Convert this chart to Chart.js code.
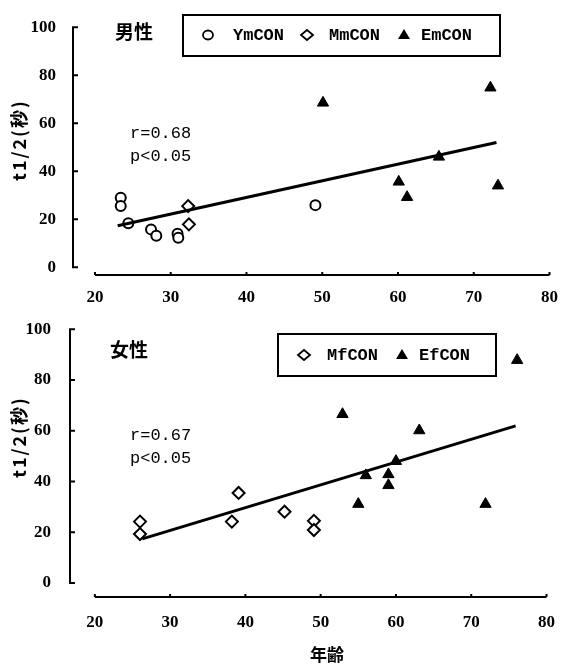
<!DOCTYPE html>
<html>
<head>
<meta charset="utf-8">
<script src="https://cdn.jsdelivr.net/npm/chart.js@4.4.1/dist/chart.umd.min.js"></script>
<style>
  body { margin: 0; background: #fff; }
  #wrap { position: relative; width: 570px; height: 664px; }
  canvas { position: absolute; left: 0; }
  #male { top: 0; }
  #female { top: 300px; }
</style>
</head>
<body>
<div id="wrap">
  <canvas id="male" width="570" height="320"></canvas>
  <canvas id="female" width="570" height="364"></canvas>
</div>
<script>
const xTicks = [20, 30, 40, 50, 60, 70, 80];
const yTicks = [0, 20, 40, 60, 80, 100];

// 男性
const ymAge = [23.4, 23.4, 24.4, 27.4, 28.1, 30.9, 31.0, 49.1];
const ymT   = [29.0, 25.5, 18.4, 15.8, 13.1, 14.0, 12.3, 25.9];
const mmAge = [32.3, 32.4];
const mmT   = [25.5, 17.9];
const emAge = [50.1, 72.2, 65.4, 60.1, 61.2, 73.2];
const emT   = [68.5, 74.8, 46.0, 35.6, 29.2, 34.0];
const fitAgeM = [23, 73];
const fitTM   = [17.3, 52];

// 女性
const mfAge = [26.0, 26.0, 39.1, 38.2, 45.2, 49.1, 49.1];
const mfT   = [24.2, 19.3, 35.5, 24.2, 28.1, 24.5, 20.9];
const efAge = [76.1, 52.9, 63.1, 60.0, 56.0, 59.0, 59.0, 55.0, 71.9];
const efT   = [87.8, 66.5, 60.1, 48.0, 42.4, 42.8, 38.5, 31.1, 31.1];
const fitAgeF = [26.3, 75.9];
const fitTF   = [17.4, 61.9];

const toPts = (xs, ys) => xs.map((x, i) => ({ x: x, y: ys[i] }));

function marker(ctx, s, x, y) {
  ctx.beginPath();
  if (s === 'circle') {
    ctx.ellipse(x, y, 5, 4.5, 0, 0, Math.PI * 2);
    ctx.fillStyle = '#fff'; ctx.fill(); ctx.stroke();
  } else if (s === 'diamond') {
    ctx.moveTo(x, y - 5); ctx.lineTo(x + 6, y); ctx.lineTo(x, y + 5); ctx.lineTo(x - 6, y); ctx.closePath();
    ctx.fillStyle = '#fff'; ctx.fill(); ctx.stroke();
  } else {
    ctx.moveTo(x, y - 6); ctx.lineTo(x + 6, y + 4); ctx.lineTo(x - 6, y + 4); ctx.closePath();
    ctx.fillStyle = '#000'; ctx.fill();
  }
}

const decor = {
  id: 'decor',
  afterDraw(chart, args, o) {
    const ctx = chart.ctx;
    const xs = chart.scales.x, ys = chart.scales.y;
    const left = chart.chartArea.left, bottom = chart.chartArea.bottom;
    ctx.save();
    ctx.strokeStyle = '#000';
    ctx.lineWidth = 2;
    // axes, drawn apart like the original
    ctx.beginPath();
    ctx.moveTo(left, ys.getPixelForValue(100) - 1);
    ctx.lineTo(left, ys.getPixelForValue(0) + 1);
    yTicks.forEach(v => {
      const p = ys.getPixelForValue(v);
      ctx.moveTo(left, p); ctx.lineTo(left + 5, p);
    });
    ctx.moveTo(xs.getPixelForValue(20), bottom);
    ctx.lineTo(xs.getPixelForValue(80), bottom);
    xTicks.forEach(v => {
      const p = xs.getPixelForValue(v);
      ctx.moveTo(p, bottom); ctx.lineTo(p, bottom - 3);
    });
    ctx.stroke();

    // legend box
    const b = o.box;
    ctx.strokeRect(b[0], b[1], b[2], b[3]);
    ctx.lineWidth = 1.8;
    ctx.textBaseline = 'middle';
    ctx.textAlign = 'left';
    ctx.font = 'bold 17px "Liberation Mono"';
    o.items.forEach(it => {
      marker(ctx, it.s, it.x, o.itemY);
      ctx.fillStyle = '#000';
      ctx.fillText(it.t, it.tx, o.itemY + 1);
    });

    ctx.fillStyle = '#000';
    ctx.font = 'bold 19px "Noto Sans CJK JP"';
    ctx.fillText(o.sex, o.sexX, o.sexY);
    ctx.font = '17px "Liberation Mono"';
    ctx.fillText(o.rText, o.rX, o.rY);
    ctx.fillText(o.pText, o.rX, o.pY);

    // y title
    ctx.save();
    ctx.translate(19, o.yTitleY);
    ctx.rotate(-Math.PI / 2);
    ctx.textAlign = 'center';
    ctx.font = 'bold 18px "Noto Sans CJK JP"';
    ctx.letterSpacing = '2px';
    ctx.fillText('t1/2(秒)', 0, 0);
    ctx.restore();

    if (o.xTitle) {
      ctx.textAlign = 'center';
      ctx.font = 'bold 17px "Noto Sans CJK JP"';
      ctx.fillText(o.xTitle, o.xTitleX, o.xTitleY);
    }
    ctx.restore();
  }
};

function makeScales(xMin, yMin, yWidth, xHeight, yPad, xPad) {
  const tickFont = { family: 'Liberation Serif', size: 17, weight: 'bold' };
  return {
    x: {
      type: 'linear', min: xMin, max: 80,
      afterBuildTicks: s => { s.ticks = xTicks.map(v => ({ value: v })); },
      afterFit: s => { s.height = xHeight; },
      grid: { display: false, drawTicks: false },
      border: { display: false },
      ticks: { padding: xPad, color: '#000', font: tickFont, maxRotation: 0, autoSkip: false }
    },
    y: {
      type: 'linear', min: yMin, max: 100,
      afterBuildTicks: s => { s.ticks = yTicks.map(v => ({ value: v })); },
      afterFit: s => { s.width = yWidth; },
      grid: { display: false, drawTicks: false },
      border: { display: false },
      ticks: { padding: yPad, color: '#000', font: tickFont }
    }
  };
}

const circleSet = (label, xs, ys) => ({
  label: label, data: toPts(xs, ys), pointStyle: 'circle', pointRadius: 5,
  borderColor: '#000', backgroundColor: '#fff', borderWidth: 2
});
const diamondSet = (label, xs, ys) => ({
  label: label, data: toPts(xs, ys), pointStyle: 'rectRot', pointRadius: 6,
  borderColor: '#000', backgroundColor: '#fff', borderWidth: 2
});
const triSet = (label, xs, ys) => ({
  label: label, data: toPts(xs, ys), pointStyle: 'triangle', pointRadius: 6.5,
  borderColor: '#000', backgroundColor: '#000', borderWidth: 1
});
const fitSet = (xs, ys) => ({
  type: 'line', label: 'fit', data: toPts(xs, ys), borderColor: '#000',
  borderWidth: 3, pointRadius: 0, fill: false
});

const maleChart = new Chart(document.getElementById('male'), {
  type: 'scatter',
  data: {
    datasets: [
      fitSet(fitAgeM, fitTM),
      circleSet('YmCON', ymAge, ymT),
      diamondSet('MmCON', mmAge, mmT),
      triSet('EmCON', emAge, emT)
    ]
  },
  options: {
    responsive: false, animation: false, events: [],
    layout: { padding: { top: 15, right: 17, left: 0, bottom: 0 } },
    scales: makeScales(17.1, -3.2, 73, 45, 17, 12),
    plugins: {
      legend: { display: false }, tooltip: { enabled: false },
      decor: {
        sex: '男性', sexX: 115, sexY: 32,
        rText: 'r=0.68', pText: 'p<0.05', rX: 130, rY: 133, pY: 156,
        box: [183, 15, 317, 41], itemY: 35,
        items: [
          { s: 'circle', x: 208, t: 'YmCON', tx: 233 },
          { s: 'diamond', x: 307, t: 'MmCON', tx: 329 },
          { s: 'tri', x: 404, t: 'EmCON', tx: 421 }
        ],
        yTitleY: 140
      }
    }
  },
  plugins: [decor]
});

const femaleChart = new Chart(document.getElementById('female'), {
  type: 'scatter',
  data: {
    datasets: [
      fitSet(fitAgeF, fitTF),
      diamondSet('MfCON', mfAge, mfT),
      triSet('EfCON', efAge, efT)
    ]
  },
  options: {
    responsive: false, animation: false, events: [],
    layout: { padding: { top: 27, right: 18, left: 0, bottom: 0 } },
    scales: makeScales(16.7, -5.5, 70, 67, 19, 15),
    plugins: {
      legend: { display: false }, tooltip: { enabled: false },
      decor: {
        sex: '女性', sexX: 110, sexY: 50,
        rText: 'r=0.67', pText: 'p<0.05', rX: 130, rY: 135, pY: 158,
        box: [278, 34, 218, 42], itemY: 55,
        items: [
          { s: 'diamond', x: 304, t: 'MfCON', tx: 327 },
          { s: 'tri', x: 402, t: 'EfCON', tx: 419 }
        ],
        yTitleY: 137,
        xTitle: '年齢', xTitleX: 327, xTitleY: 355
      }
    }
  },
  plugins: [decor]
});
</script>
</body>
</html>
